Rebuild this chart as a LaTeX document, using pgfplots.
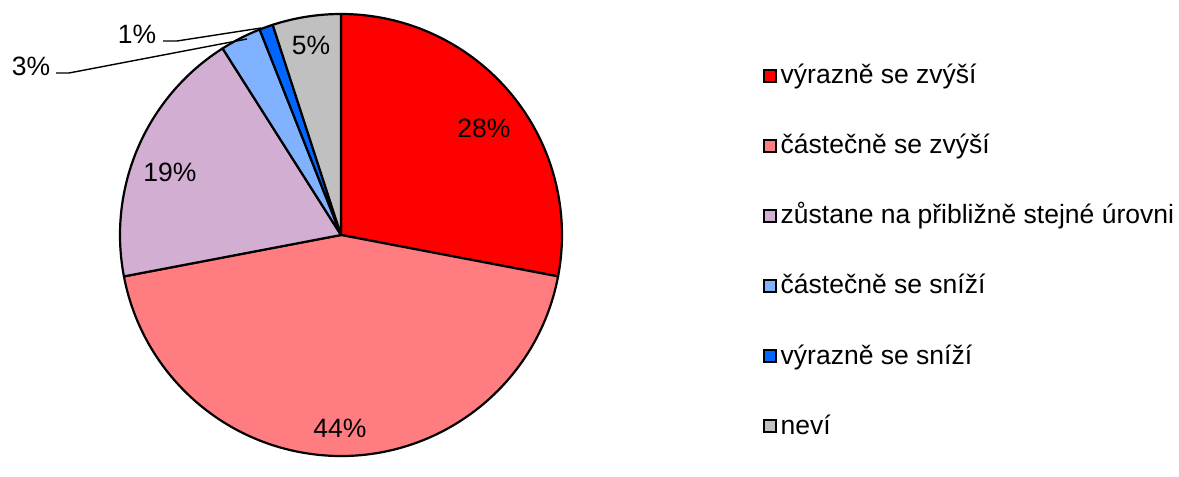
\documentclass[border=0pt]{standalone}
\usepackage{pgfplots}
\pgfplotsset{compat=1.18}
\usepackage{fontspec}
\setmainfont{Liberation Sans}
\definecolor{c1}{HTML}{FF0000}
\definecolor{c2}{HTML}{FF7C80}
\definecolor{c3}{HTML}{D2AFD2}
\definecolor{c4}{HTML}{80B2FF}
\definecolor{c5}{HTML}{0066FF}
\definecolor{c6}{HTML}{C0C0C0}
\newcommand\lab{\fontsize{26.5bp}{30bp}\selectfont}
\begin{document}
\begin{tikzpicture}
\begin{axis}[width=1179bp,height=457bp,scale only axis,
  xmin=0,xmax=1179,ymin=0,ymax=457,hide axis,clip=false]
\addplot[draw=none] coordinates {(0,0) (1179,457)};
\pgfplotsextra{
  \gdef\a{90}
  \foreach \v/\c in {28/c1,44/c2,19/c3,3/c4,1/c5,5/c6}{
    \pgfmathsetmacro{\b}{\a-3.6*\v}
    \fill[\c, draw=black, line width=2.2bp, line join=round]
      (axis cs:341,222) -- ++(\a:221bp) arc[start angle=\a, end angle=\b, radius=221bp] -- cycle;
    \xdef\a{\b}
  }
  \foreach \c/\t [count=\i] in {c1/výrazně se zvýší, c2/částečně se zvýší, c3/zůstane na přibližně stejné úrovni, c4/částečně se sníží, c5/výrazně se sníží, c6/neví}{
    \pgfmathsetmacro{\yy}{381-70*(\i-1)}
    \fill[\c, draw=black, line width=2bp] (axis cs:764,\yy-6) rectangle (axis cs:776,\yy+6);
    \node[anchor=base west, inner sep=0pt, font=\lab] at (axis cs:780.5,\yy-8) {\t};
  }
}
\node[font=\lab, inner sep=0pt] at (axis cs:484,329) {28\%};
\node[font=\lab, inner sep=0pt] at (axis cs:340,29) {44\%};
\node[font=\lab, inner sep=0pt] at (axis cs:170,285) {19\%};
\node[font=\lab, inner sep=0pt] at (axis cs:311,412) {5\%};
\node[font=\lab, inner sep=0pt] at (axis cs:31,391) {3\%};
\node[font=\lab, inner sep=0pt] at (axis cs:137,423) {1\%};
\draw[line width=1.4bp] (axis cs:56,384) -- (axis cs:69,384) -- (axis cs:247,418);
\draw[line width=1.4bp] (axis cs:163,416) -- (axis cs:177,416) -- (axis cs:261,429);
\end{axis}
\end{tikzpicture}
\end{document}
